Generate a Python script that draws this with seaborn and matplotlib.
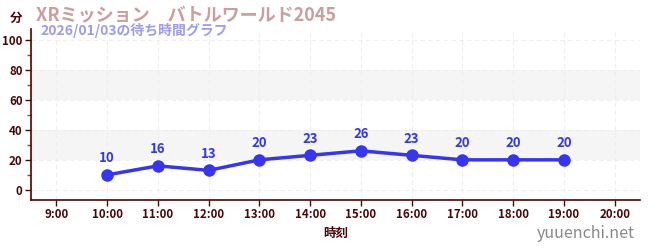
import matplotlib
matplotlib.use("Agg")
import matplotlib.pyplot as plt
import seaborn as sns
import pandas as pd

hours = [10, 11, 12, 13, 14, 15, 16, 17, 18, 19]
waits = [10, 16, 13, 20, 23, 26, 23, 20, 20, 20]
tick_hours = list(range(9, 21))
tick_labels = [f"{h}:00" for h in tick_hours]
title = "XRミッション　バトルワールド2045"
subtitle = "2026/01/03の待ち時間グラフ"

sns.set_theme(style="white")
plt.rcParams['font.family'] = ['Noto Sans CJK JP', 'DejaVu Sans']

df = pd.DataFrame({"hour": hours, "wait": waits})

fig = plt.figure(figsize=(6.5, 2.5), dpi=100)
ax = fig.add_axes([31/650, 50/250, 609/650, 171/250])

line_color = "#3535f2"
dark = "#4a0808"

for lo, hi in [(20, 40), (60, 80)]:
    ax.axhspan(lo, hi, color="#f5f5f5", zorder=0, lw=0)

sns.lineplot(data=df, x="hour", y="wait", ax=ax, color=line_color, lw=2.5,
             marker="o", markersize=9, markeredgewidth=0, zorder=3)
for h, w in zip(hours, waits):
    ax.annotate(str(w), (h, w), xytext=(0, 7), textcoords="offset points",
                ha="center", va="bottom", color=line_color, fontsize=9.5,
                fontweight="bold")

ax.set_xlim(8.5, 20.5)
ax.set_ylim(-6.7, 107)
ax.set_xticks(tick_hours)
ax.set_xticklabels(tick_labels)
ax.set_yticks([0, 20, 40, 60, 80, 100])
ax.set_yticks([10, 30, 50, 70, 90], minor=True)
ax.grid(True, which="major", color="#eeeeee", ls=(0, (4, 3)), lw=0.8)
ax.set_axisbelow(True)

for s in ["top", "right"]:
    ax.spines[s].set_visible(False)
for s in ["left", "bottom"]:
    ax.spines[s].set_color("#5a0000")
    ax.spines[s].set_linewidth(1.2)

ax.tick_params(axis="both", which="major", length=4, width=1, color=dark,
               labelsize=8.3, labelcolor=dark, pad=2, left=True, bottom=True)
ax.tick_params(axis="y", which="minor", length=3, width=1, color="#dd2222", left=True)
for lbl in ax.get_xticklabels() + ax.get_yticklabels():
    lbl.set_fontweight("bold")

ax.set_xlabel("時刻", color=dark, fontsize=9, fontweight="bold", labelpad=4)
ax.set_ylabel("")

fig.text(10/650, 1 - 18/250, "分", color=dark, fontsize=9, fontweight="bold",
         ha="left", va="center")
fig.text(36/650, 1 - 15/250, title, color="#c9a0a0", fontsize=13,
         fontweight="bold", ha="left", va="center")
fig.text(40/650, 1 - 31/250, subtitle, color="#9c9cf0", fontsize=10,
         fontweight="bold", ha="left", va="center")
fig.text(635/650, 1 - 233/250, "yuuenchi.net", color="#888888", fontsize=11.5,
         ha="right", va="center")

fig.savefig("out.png", dpi=100)
